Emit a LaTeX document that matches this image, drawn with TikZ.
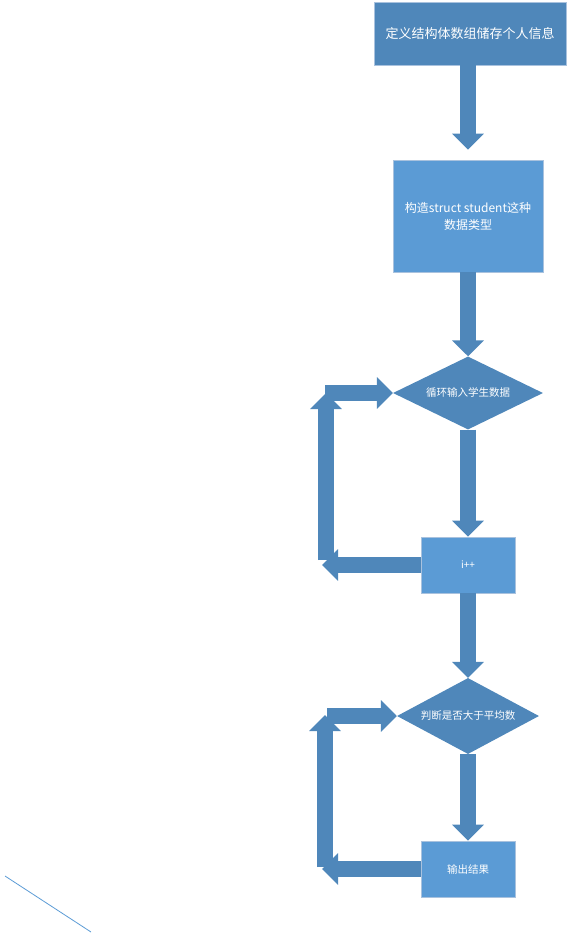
\documentclass[tikz,border=0pt]{standalone}
\usepackage{fontspec}
\usepackage{xcolor}
\usetikzlibrary{arrows.meta,shapes.geometric}
\newfontfamily\cjk{Noto Sans CJK SC}
\definecolor{FlowDark}{HTML}{4F87BA}
\definecolor{FlowLight}{HTML}{5B9BD5}
\definecolor{FlowEdge}{HTML}{A9C2DE}

\begin{document}
\begin{tikzpicture}[
  x=1pt, y=-1pt,
  box/.style={draw=FlowEdge,line width=0.8pt,fill=FlowLight,text=white,inner sep=0pt,align=center,font=\cjk\fontsize{12}{17}\selectfont},
  decision/.style={diamond,aspect=2,fill=FlowDark,text=white,inner sep=0pt,align=center,font=\cjk\fontsize{10.5}{13}\selectfont},
  fat/.style={FlowDark,line width=16pt,-{Triangle[width=31pt,length=16pt]}}
]
  \useasboundingbox (0,0) rectangle (568,941);

  \node[box, fill=FlowDark, minimum width=192pt, minimum height=63pt, font=\cjk\fontsize{13}{16}\selectfont] (def) at (470,33.5) {定义结构体数组储存个人信息};
  \node[box, minimum width=150pt, minimum height=112pt] (type) at (468,216) {构造struct student这种\\数据类型};
  \node[decision, aspect=2.05, minimum width=150pt, minimum height=73pt] (input) at (468,393) {循环输入学生数据};
  \node[box, minimum width=94pt, minimum height=56pt, font=\cjk\fontsize{10}{12}\selectfont] (inc) at (468,565) {i++};
  \node[decision, aspect=1.87, minimum width=142pt, minimum height=76pt] (judge) at (468,716) {判断是否大于平均数};
  \node[box, minimum width=94pt, minimum height=56pt, font=\cjk\fontsize{10.5}{12}\selectfont] (out) at (468,869) {输出结果};

  \draw[fat, shorten >=10pt] (def.south -| type.north) -- (type.north);
  \draw[fat] (type.south) -- (input.north);
  \draw[fat] (input.south) -- (inc.north);
  \draw[fat] (inc.south) -- (judge.north);
  \draw[fat] (judge.south) -- (out.north);

  % loop back from i++
  \coordinate (l1) at (322,565);
  \coordinate (l2) at (326,560);
  \coordinate (l3) at (326,393);
  \coordinate (l4) at (325,393);
  \draw[fat] (inc.west) -- (l1);
  \draw[fat] (l2) -- (l3);
  \draw[fat] (l4) -- (input.west);

  % loop back from output
  \coordinate (m1) at (322,869);
  \coordinate (m2) at (325,867);
  \coordinate (m3) at (325,715);
  \coordinate (m4) at (327,716);
  \draw[fat] (out.west) -- (m1);
  \draw[fat] (m2) -- (m3);
  \draw[fat] (m4) -- (judge.west);

  \coordinate (s1) at (5,876);
  \coordinate (s2) at (91,932);
  \draw[FlowLight, line width=0.8pt] (s1) -- (s2);
\end{tikzpicture}
\end{document}
